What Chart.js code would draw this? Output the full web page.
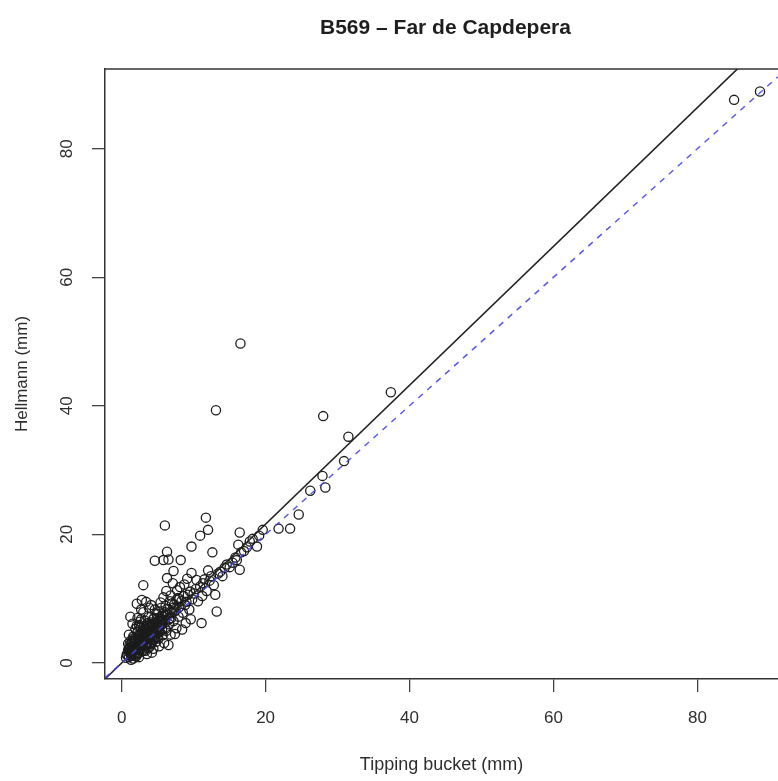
<!DOCTYPE html>
<html lang="en">
<head>
<meta charset="UTF-8">
<title>B569 - Far de Capdepera</title>
<script src="https://cdn.jsdelivr.net/npm/chart.js"></script>
<style>
  body { margin: 0; background: #fff; }
  #wrap { width: 778px; height: 781px; }
</style>
</head>
<body>
<div id="wrap"><canvas id="gauges" width="778" height="781"></canvas></div>
<script>
const chartTitle = 'B569 – Far de Capdepera';
const xTitle = 'Tipping bucket (mm)';
const yTitle = 'Hellmann (mm)';
const xTicks = [0, 20, 40, 60, 80];
const yTicks = [0, 20, 40, 60, 80];
const xRange = [-2.32, 91.2];
const yRange = [-2.5, 92.4];

// daily totals, tipping bucket gauge (x) vs Hellmann gauge (y)
const tippingMm = [
  0.6,0.8,1.0,1.1,1.2,1.3,1.4,1.5,1.6,1.7,1.8,1.9,1.2,1.5,0.9,1.0,1.3,1.6,2.0,2.0,
  2.1,2.2,2.3,2.4,2.5,2.6,2.7,2.8,2.9,3.0,3.0,2.2,2.6,2.4,2.9,2.1,2.8,
  3.1,3.2,3.3,3.4,3.5,3.6,3.7,3.8,3.9,3.2,3.5,3.8,3.4,3.6,3.9,3.0,
  4.0,4.1,4.2,4.3,4.4,4.5,4.6,4.7,4.8,4.9,4.1,4.4,4.6,4.8,4.2,4.9,
  5.0,5.1,5.2,5.3,5.4,5.5,5.6,5.7,5.8,5.9,5.2,5.5,5.8,5.1,5.6,5.9,
  6.0,6.0,6.1,6.2,6.3,6.4,6.5,6.6,6.7,6.8,6.9,6.2,6.5,6.8,6.3,
  7.0,7.2,7.3,7.5,7.6,7.8,7.9,7.1,7.4,7.7,7.2,
  8.0,8.2,8.3,8.5,8.6,8.8,8.9,8.1,8.4,8.7,
  9.0,9.2,9.4,9.5,9.7,9.7,9.8,9.1,9.6,
  10.0,10.3,10.4,10.6,10.9,10.9,11.1,11.3,11.5,11.7,11.8,12.0,12.2,12.4,12.6,12.8,13.0,13.1,13.2,12.0,11.2,
  13.4,13.7,14.0,14.3,14.6,15.0,15.4,15.8,16.0,16.2,16.4,16.4,16.5,16.6,17.0,17.4,17.8,18.2,18.8,19.1,19.6,
  21.8,23.4,24.6,26.2,27.9,28.3,28.0,30.9,31.5,37.4,85.1,88.7,
  1.4,1.7,2.0,2.3,2.5,2.7,3.0,3.2,3.4,3.6,3.8,4.0,4.3,4.5,4.7,5.0,5.3,2.1,2.6,3.1,3.5,4.1,4.6,1.8,2.4,2.9,3.3,3.7,5.4,6.1,
  0.7,0.9,1.1,1.3,1.5,1.7,1.9,2.2,2.4,2.6,2.8,3.0,3.3,3.5,3.7,3.9,4.2,4.4,4.7,4.9,
  5.2,5.5,5.8,6.1,6.4,6.7,7.0,7.3,7.6,8.0,1.0,1.4,1.8,2.5,3.1,3.6,4.0,4.5,5.0,5.7,
  1.1,1.4,1.7,2.0,2.3,2.6,2.9,3.2,3.5,3.8,4.1,4.4,4.7,5.0,5.3,
  5.6,1.6,2.1,2.7,3.3,3.9,4.5,5.1,6.0,6.6,7.2,1.2,2.4,3.6,4.8
];
const hellmannMm = [
  0.8,1.2,0.9,1.6,2.4,1.1,3.2,2.0,4.1,1.4,2.7,5.3,7.2,6.1,3.0,4.4,0.5,0.7,1.0,3.6,
  2.2,4.8,1.5,3.0,6.4,2.6,8.3,4.0,1.9,12.1,3.3,7.0,5.5,0.9,5.1,9.2,9.8,
  2.1,3.5,4.6,2.8,5.8,3.9,7.1,2.4,4.9,6.6,1.4,8.6,9.5,5.3,3.1,7.9,
  4.2,2.9,5.6,3.6,6.8,4.4,15.9,5.0,3.3,7.6,9.0,2.2,8.3,6.1,1.6,4.7,
  5.5,3.8,6.5,4.8,9.4,5.9,7.3,4.3,16.0,6.7,2.6,8.6,10.2,7.9,5.2,3.1,
  21.4,6.3,8.9,5.0,17.3,7.5,16.1,6.0,9.6,4.4,7.0,11.2,2.8,10.5,13.2,
  7.8,6.5,9.1,8.2,5.4,10.1,7.2,12.4,4.5,11.3,14.3,
  8.7,16.0,9.6,7.8,10.4,9.0,6.2,11.8,5.2,12.2,
  9.5,10.6,8.3,11.1,18.1,14.0,9.9,13.1,6.8,
  10.8,11.5,12.9,9.6,19.8,11.9,6.2,12.4,13.0,22.6,11.2,20.7,12.8,13.5,17.2,12.1,10.6,39.3,8.0,14.4,10.4,
  13.9,14.2,13.5,14.8,15.3,14.9,15.6,16.4,16.0,18.4,20.3,14.5,49.7,17.2,17.4,18.0,18.9,19.3,18.1,19.8,20.7,
  20.9,20.9,23.1,26.8,29.1,27.3,38.4,31.4,35.2,42.1,87.6,88.9,
  1.8,2.2,2.6,3.7,2.0,3.4,4.5,2.7,3.8,2.3,5.7,3.1,4.9,5.6,3.9,4.1,5.9,1.3,4.3,5.7,4.2,6.0,4.0,3.3,5.9,3.0,1.9,4.4,6.1,5.3,
  1.3,2.0,2.8,1.9,3.5,2.6,3.9,2.9,4.3,3.8,2.3,5.0,3.0,4.6,3.3,5.5,4.0,5.1,6.4,5.6,
  5.0,6.8,7.7,7.3,8.4,7.9,9.3,8.0,9.8,9.9,2.2,2.5,1.1,2.0,4.0,6.2,5.0,3.6,6.9,6.2,
  1.9,1.5,3.0,2.0,4.2,3.1,3.6,4.9,2.9,4.5,6.3,4.2,4.6,6.0,6.9,
  6.4,3.8,5.8,6.8,5.2,5.9,7.0,5.6,7.9,6.8,8.6,3.4,1.6,4.8,5.3
];

// fitted line (solid black) and 1:1 line (blue dashed)
const fitX = [-2.32, 91.2];
const fitY = [-2.5, 98.5];
const idealX = [-2.32, 91.2];
const idealY = [-2.32, 91.2];

const toPoints = (xs, ys) => xs.map((x, i) => ({ x: x, y: ys[i] }));

const tickFont = { family: '"Liberation Sans", Arial, sans-serif', size: 17 };
const titleFont = { family: '"Liberation Sans", Arial, sans-serif', size: 18 };
const ink = '#2e2e2e';

const framePlugin = {
  id: 'frame',
  afterDraw(chart) {
    const { ctx, chartArea: a } = chart;
    ctx.save();
    ctx.strokeStyle = '#333';
    ctx.lineWidth = 1.5;
    ctx.beginPath();
    ctx.moveTo(a.left, a.top);
    ctx.lineTo(a.right, a.top);
    ctx.stroke();
    ctx.fillStyle = '#1e1e1e';
    ctx.font = 'bold 21px "Liberation Sans", Arial, sans-serif';
    ctx.textAlign = 'center';
    ctx.textBaseline = 'middle';
    ctx.fillText(chartTitle, (a.left + a.right) / 2 + 4, 28);
    ctx.restore();
  }
};

new Chart(document.getElementById('gauges'), {
  type: 'scatter',
  data: {
    datasets: [
      {
        data: toPoints(idealX, idealY),
        showLine: true, pointRadius: 0,
        borderColor: 'rgba(70,70,225,0.9)', borderWidth: 1.5, borderDash: [6, 6]
      },
      {
        data: toPoints(fitX, fitY),
        showLine: true, pointRadius: 0,
        borderColor: '#222', borderWidth: 1.6
      },
      {
        data: toPoints(tippingMm, hellmannMm),
        pointStyle: 'circle', pointRadius: 4.6, borderWidth: 1.3,
        borderColor: '#1c1c1c', backgroundColor: 'rgba(0,0,0,0)'
      }
    ]
  },
  options: {
    responsive: false,
    animation: false,
    layout: { autoPadding: false, padding: { top: 69, right: 0, left: 0, bottom: 0 } },
    plugins: { legend: { display: false }, tooltip: { enabled: false } },
    scales: {
      x: {
        type: 'linear',
        min: xRange[0], max: xRange[1],
        afterBuildTicks: s => { s.ticks = xTicks.map(v => ({ value: v })); },
        afterFit: s => { s.height = 102; s.paddingLeft = 0; s.paddingRight = 0; },
        ticks: { font: tickFont, color: ink, padding: 16, maxRotation: 0 },
        grid: { drawOnChartArea: false, tickLength: 13, color: '#444', lineWidth: 1.3 },
        border: { color: '#333', width: 1.5 },
        title: { display: true, text: xTitle, font: titleFont, color: ink, padding: { top: 5, bottom: 5 } }
      },
      y: {
        type: 'linear',
        min: yRange[0], max: yRange[1],
        afterBuildTicks: s => { s.ticks = yTicks.map(v => ({ value: v })); },
        afterFit: s => { s.width = 105; s.paddingTop = 0; s.paddingBottom = 0; },
        ticks: { font: tickFont, color: ink, padding: 15, minRotation: 90, maxRotation: 90, crossAlign: 'center' },
        grid: { drawOnChartArea: false, tickLength: 13, color: '#444', lineWidth: 1.3 },
        border: { color: '#333', width: 1.5 },
        title: { display: true, text: yTitle, font: tickFont, color: ink, padding: { top: 12, bottom: 12 } }
      }
    }
  },
  plugins: [framePlugin]
});
</script>
</body>
</html>
